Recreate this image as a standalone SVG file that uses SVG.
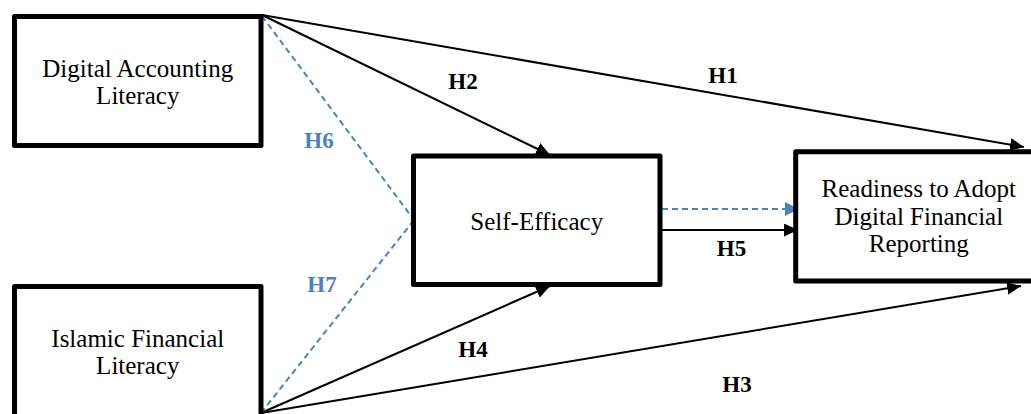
<svg xmlns="http://www.w3.org/2000/svg" width="1031" height="414" viewBox="0 0 1031 414">
  <style>
    .box { fill: #ffffff; stroke: #000000; stroke-width: 5; stroke-linejoin: round; }
    .name { font-family: "Liberation Serif", "Times New Roman", serif; font-size: 25px; fill: #000000; text-anchor: middle; }
    .hyp { font-family: "Liberation Serif", "Times New Roman", serif; font-size: 23px; font-weight: bold; text-anchor: middle; }
    .hyp.direct { fill: #000000; }
    .hyp.mediated { fill: #4F81BD; }
    .link { fill: none; stroke: #000000; stroke-width: 2; }
    .link.dash { stroke: #4F81BD; stroke-dasharray: 6 4; }
  </style>
  <defs>
    <marker id="head-black" markerUnits="userSpaceOnUse" markerWidth="15" markerHeight="13" refX="14" refY="6.5" orient="auto">
      <path d="M0,0 L14,6.5 L0,13 z" fill="#000000"/>
    </marker>
    <marker id="head-blue" markerUnits="userSpaceOnUse" markerWidth="15" markerHeight="15" refX="14" refY="7" orient="auto">
      <path d="M0,0 L14,7 L0,14 z" fill="#4F81BD"/>
    </marker>
  </defs>

  <rect width="1031" height="414" fill="#ffffff"/>

  <!-- connectors -->
  <g id="connectors">
    <!-- H1: digital accounting literacy -> readiness -->
    <line class="link" x1="262" y1="15" x2="1024" y2="147" marker-end="url(#head-black)"/>
    <!-- H2: digital accounting literacy -> self-efficacy -->
    <line class="link" x1="262" y1="15" x2="550" y2="155" marker-end="url(#head-black)"/>
    <!-- H3: islamic financial literacy -> readiness -->
    <line class="link" x1="261" y1="413" x2="1021" y2="286" marker-end="url(#head-black)"/>
    <!-- H4: islamic financial literacy -> self-efficacy -->
    <line class="link" x1="261" y1="413" x2="550" y2="286" marker-end="url(#head-black)"/>
    <!-- H5: self-efficacy -> readiness -->
    <line class="link" x1="662" y1="230" x2="798" y2="230" marker-end="url(#head-black)"/>
    <!-- H6 / H7: mediation paths through self-efficacy -->
    <line class="link dash" x1="262" y1="16" x2="414" y2="220"/>
    <line class="link dash" x1="261" y1="413" x2="414" y2="220"/>
    <line class="link dash" x1="662" y1="209" x2="799" y2="209" marker-end="url(#head-blue)"/>
  </g>

  <g id="node-dal">
    <rect class="box" x="14.5" y="16.5" width="246.5" height="129"/>
    <text class="name" x="137.75" y="77">Digital Accounting</text>
    <text class="name" x="137.75" y="104">Literacy</text>
  </g>

  <g id="node-ifl">
    <rect class="box" x="14.5" y="286.5" width="246.5" height="150"/>
    <text class="name" x="137.75" y="347">Islamic Financial</text>
    <text class="name" x="137.75" y="374">Literacy</text>
  </g>

  <g id="node-se">
    <rect class="box" x="413.5" y="156" width="246.5" height="128.5"/>
    <text class="name" x="536.75" y="230">Self-Efficacy</text>
  </g>

  <g id="node-rdfr">
    <rect class="box" x="795.7" y="151.7" width="246" height="129.3"/>
    <text class="name" x="918.8" y="197">Readiness to Adopt</text>
    <text class="name" x="918.8" y="224.5">Digital Financial</text>
    <text class="name" x="918.8" y="252">Reporting</text>
  </g>

  <g id="labels">
    <text class="hyp direct" x="723" y="83">H1</text>
    <text class="hyp direct" x="463" y="89">H2</text>
    <text class="hyp direct" x="737" y="392">H3</text>
    <text class="hyp direct" x="473" y="357">H4</text>
    <text class="hyp direct" x="731.5" y="256">H5</text>
    <text class="hyp mediated" x="319" y="148">H6</text>
    <text class="hyp mediated" x="322" y="292">H7</text>
  </g>
</svg>
